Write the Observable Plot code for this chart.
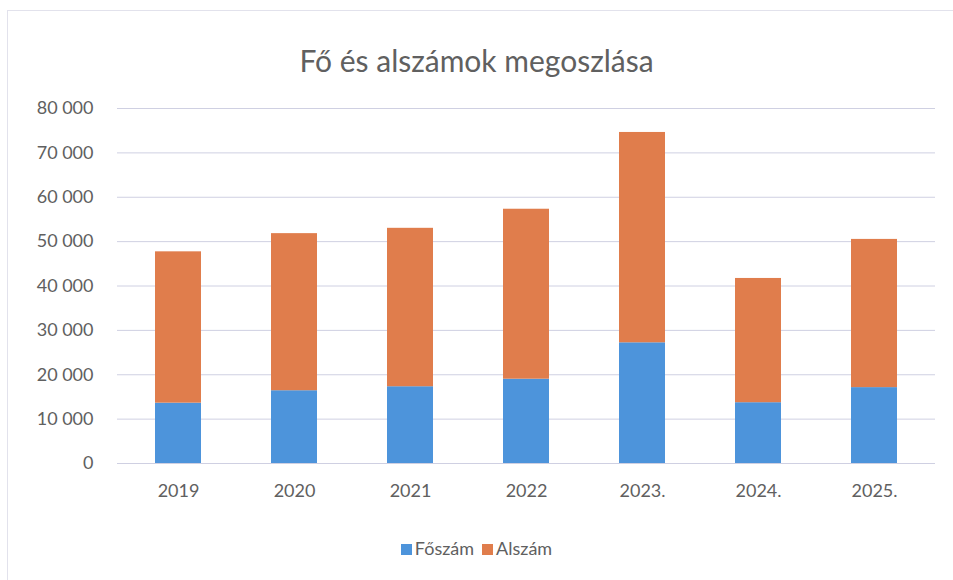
<!DOCTYPE html>
<html>
<head>
<meta charset="utf-8">
<script src="https://cdn.jsdelivr.net/npm/d3@7"></script>
<script src="https://cdn.jsdelivr.net/npm/@observablehq/plot@0.6"></script>
<style>
  html, body { margin: 0; padding: 0; background: #fff; }
  body { width: 953px; height: 580px; position: relative; overflow: hidden; font-family: Lato, "Open Sans", sans-serif; }
  #frame { position: absolute; left: 7px; top: 10px; width: 960px; height: 600px; border-left: 1px solid #e2e2ec; border-top: 1px solid #e2e2ec; }
  #title { position: absolute; left: 0; top: 0; width: 953px; height: 95px; text-align: center; font-size: 30px; color: #606060; line-height: 1; padding-top: 0; }
  #title span { position: relative; top: 45px; }
  #chart { position: absolute; left: 0; top: 95px; }
  #legend { position: absolute; left: 0; top: 537px; width: 953px; text-align: center; font-size: 18px; color: #606060; }
  #legend .item { display: inline-block; margin: 0 4px; }
  #legend .sw { display: inline-block; width: 11px; height: 11px; margin-right: 3px; vertical-align: 0px; }
</style>
</head>
<body>
<div id="frame"></div>
<div id="title"><span>Fő és alszámok megoszlása</span></div>
<div id="chart"></div>
<div id="legend"></div>
<script>
const years = ["2019", "2020", "2021", "2022", "2023.", "2024.", "2025."];
const foszam = [13600, 16400, 17300, 19000, 27200, 13700, 17100];
const totals = [47700, 51800, 53000, 57300, 74600, 41700, 50500];
const alszam = totals.map((t, i) => t - foszam[i]);
const seriesNames = ["Főszám", "Alszám"];
const seriesColors = ["#4d94db", "#e07d4c"];
const yTicks = [0, 10000, 20000, 30000, 40000, 50000, 60000, 70000, 80000];

const rows = [];
years.forEach((y, i) => {
  rows.push({year: y, series: seriesNames[0], value: foszam[i]});
  rows.push({year: y, series: seriesNames[1], value: alszam[i]});
});

const fmt = d3.formatLocale({decimal: ",", thousands: " ", grouping: [3], currency: ["", " Ft"]}).format(",d");

const chart = Plot.plot({
  width: 953,
  height: 410,
  marginTop: 13,
  marginBottom: 42,
  marginLeft: 117,
  marginRight: 18,
  style: {fontFamily: "Lato, 'Open Sans', sans-serif", fontSize: "18px", color: "#606060", background: "transparent"},
  x: {domain: years, paddingInner: 0.6, paddingOuter: 0.3, label: null, tickSize: 0, tickPadding: 21},
  y: {domain: [0, 80000], ticks: yTicks, tickFormat: fmt, label: null, tickSize: 0, tickPadding: 24},
  color: {domain: seriesNames, range: seriesColors},
  marks: [
    Plot.gridY(yTicks, {stroke: "#cfd0e2", strokeOpacity: 1, strokeWidth: 1}),
    Plot.barY(rows, Plot.stackY({x: "year", y: "value", fill: "series", order: seriesNames})),
    Plot.ruleY([0], {stroke: "#cfd0e2"})
  ]
});
document.getElementById("chart").appendChild(chart);

const legend = document.getElementById("legend");
seriesNames.forEach((n, i) => {
  const item = document.createElement("span");
  item.className = "item";
  const sw = document.createElement("span");
  sw.className = "sw";
  sw.style.background = seriesColors[i];
  item.appendChild(sw);
  item.appendChild(document.createTextNode(n));
  legend.appendChild(item);
});
</script>
</body>
</html>
